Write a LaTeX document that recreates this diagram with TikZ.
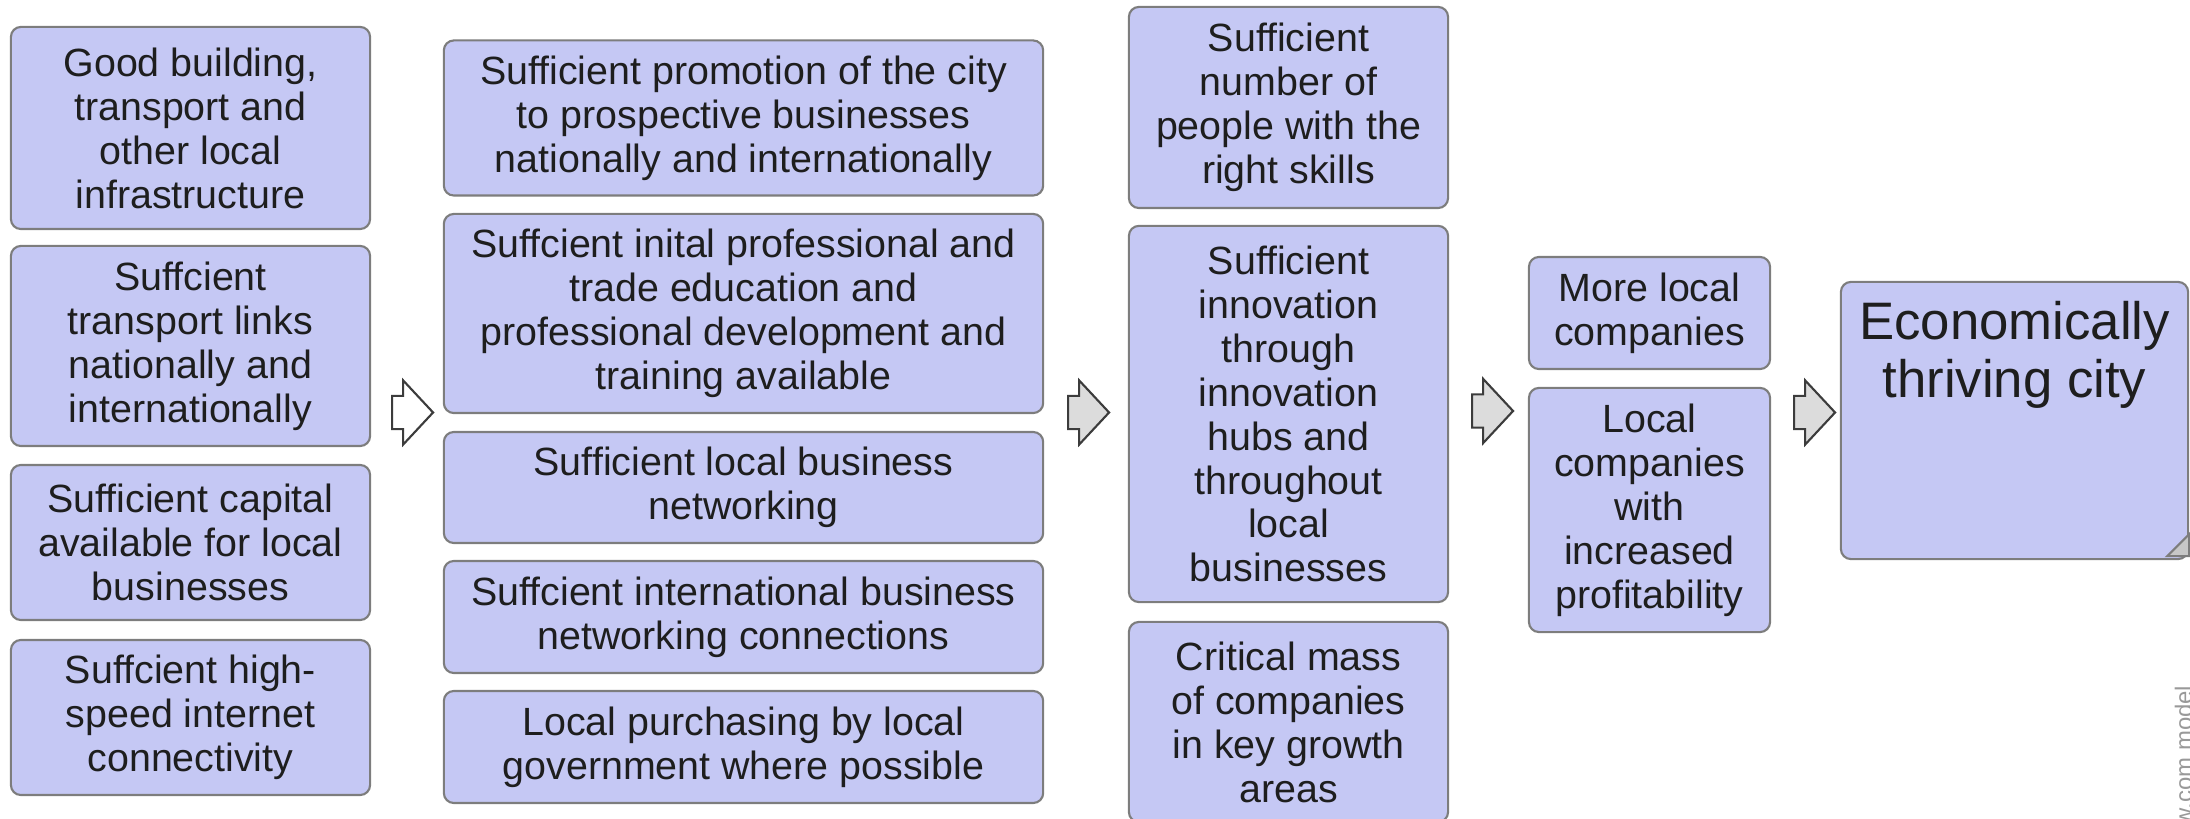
\documentclass[tikz,border=0pt]{standalone}
\usepackage{fontspec}
\setmainfont{Liberation Sans}
\usetikzlibrary{positioning,shapes.arrows}
\definecolor{boxfill}{RGB}{197,200,244}
\definecolor{boxline}{RGB}{125,125,125}
\definecolor{arrfill}{RGB}{220,220,220}
\definecolor{arrline}{RGB}{60,60,60}
\definecolor{txtcol}{RGB}{30,30,30}
\tikzset{
  box/.style={draw=boxline,fill=boxfill,rounded corners=0.1cm,line width=0.6pt,align=center,inner sep=0pt,text=txtcol,font=\fontsize{11.2}{12.5}\selectfont},
  colA/.style={box,minimum width=3.59cm},
  colB/.style={box,minimum width=5.99cm},
  colC/.style={box,minimum width=3.19cm},
  colD/.style={box,minimum width=2.41cm},
  goalbox/.style={box,minimum width=3.47cm,minimum height=2.77cm},
  goaltxt/.style={align=center,inner sep=0pt,text=txtcol,font=\fontsize{15}{16.4}\selectfont},
  flow/.style={single arrow,draw=arrline,fill=arrfill,line width=0.6pt,minimum height=0.41cm,inner xsep=0pt,inner ysep=0.155cm,single arrow head extend=0.155cm,single arrow tip angle=94,anchor=tail},
  corner/.style={fill=black!22,draw=boxline,line width=0.6pt},
  wmark/.style={inner sep=0pt,text=black!40,font=\fontsize{6.8}{7}\selectfont},
}
\begin{document}
\begin{tikzpicture}[x=0.01cm,y=-0.01cm]
  \useasboundingbox (0,0) rectangle (2190,819);
  \node[colA,minimum height=2.02cm] (infra) at (190.5,128) {Good building,\\transport and\\other local\\infrastructure};
  \node[colA,minimum height=2.00cm] (links) at (190.5,346) {Suffcient\\transport links\\nationally and\\internationally};
  \node[colA,minimum height=1.55cm] (capital) at (190.5,542.5) {Sufficient capital\\available for local\\businesses};
  \node[colA,minimum height=1.55cm] (net) at (190.5,717.5) {Suffcient high-\\speed internet\\connectivity};
  \node[colB,minimum height=1.55cm] (promo) at (743.5,118) {Sufficient promotion of the city\\to prospective businesses\\nationally and internationally};
  \node[colB,minimum height=1.99cm] (edu) at (743.5,313.5) {Suffcient inital professional and\\trade education and\\professional development and\\training available};
  \node[colB,minimum height=1.11cm] (localnet) at (743.5,487.5) {Sufficient local business\\networking};
  \node[colB,minimum height=1.12cm] (intlnet) at (743.5,617) {Suffcient international business\\networking connections};
  \node[colB,minimum height=1.12cm] (purch) at (743.5,747) {Local purchasing by local\\government where possible};
  \node[colC,minimum height=2.01cm] (skills) at (1288.5,107.5) {Sufficient\\number of\\people with the\\right skills};
  \node[colC,minimum height=3.76cm] (innov) at (1288.5,414) {Sufficient\\innovation\\through\\innovation\\hubs and\\throughout\\local\\businesses};
  \node[colC,minimum height=2.00cm] (mass) at (1288.5,722) {Critical mass\\of companies\\in key growth\\areas};
  \node[colD,minimum height=1.12cm] (more) at (1649.5,313) {More local\\companies};
  \node[colD,minimum height=2.44cm] (profit) at (1649.5,510) {Local\\companies\\with\\increased\\profitability};
  \node[goalbox] (goal) at (2014.5,420.5) {};
  \node[goaltxt,below=0.2cm of goal.north] (goaltext) {Economically\\thriving city};
  \filldraw[corner] ([shift={(-22,-4)}]goal.south east) -- ([shift={(0,-26)}]goal.south east) -- ([shift={(0,-4)}]goal.south east) -- cycle;
  \node[flow,fill=white] (arrA) at (391,412.5) {};
  \node[flow] (arrB) at (1067,412.5) {};
  \node[flow] (arrC) at (1471,411) {};
  \node[flow] (arrD) at (1793,412.5) {};
  \node[wmark,rotate=90,anchor=base west] (credit) at (2192,826) {w.com model};
\end{tikzpicture}
\end{document}
